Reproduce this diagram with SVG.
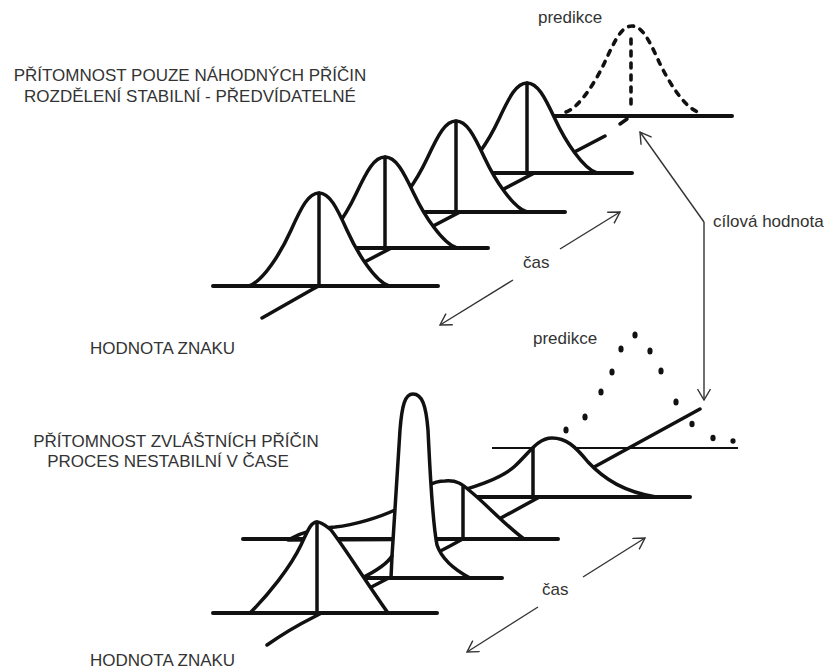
<svg xmlns="http://www.w3.org/2000/svg" width="827" height="670" viewBox="0 0 827 670">
<defs>
<style>
.ln{fill:none;stroke:#111;stroke-width:3.5;stroke-linecap:round;stroke-linejoin:round}
.bl{fill:none;stroke:#111;stroke-width:4;stroke-linecap:round}
.cv{fill:#fff;stroke:#111;stroke-width:3.5;stroke-linejoin:round}
.ds{fill:none;stroke:#111;stroke-width:3.6;stroke-linecap:round;stroke-dasharray:5 7}
.th{fill:none;stroke:#333;stroke-width:1.4}
.t{font-family:"Liberation Sans",Arial,sans-serif;font-size:17px;fill:#333}
.dot{fill:#111}
</style>
<marker id="ah" viewBox="0 0 14 14" refX="13" refY="7" markerWidth="14" markerHeight="14" markerUnits="userSpaceOnUse" orient="auto">
<path d="M2,0.5 L13,7 L2,13.5" fill="none" stroke="#333" stroke-width="1.4"/>
</marker>
</defs>
<rect width="827" height="670" fill="#fff"/>

<g id="labels">
<text class="t" x="190" y="81" text-anchor="middle">PŘÍTOMNOST POUZE NÁHODNÝCH PŘÍČIN</text>
<text class="t" x="190" y="102" text-anchor="middle">ROZDĚLENÍ STABILNÍ - PŘEDVÍDATELNÉ</text>
<text class="t" x="90" y="354">HODNOTA ZNAKU</text>
<text class="t" x="176" y="447" text-anchor="middle">PŘÍTOMNOST ZVLÁŠTNÍCH PŘÍČIN</text>
<text class="t" x="168" y="467" text-anchor="middle">PROCES NESTABILNÍ V ČASE</text>
<text class="t" x="90" y="666">HODNOTA ZNAKU</text>
<text class="t" x="538" y="23">predikce</text>
<text class="t" x="533" y="344">predikce</text>
<text class="t" x="523" y="268">čas</text>
<text class="t" x="542" y="595">čas</text>
<text class="t" x="713" y="227">cílová hodnota</text>
</g>

<g id="top-stable">
<g id="top-prediction">
<path class="ds" d="M566,112 C579.2,107.7 595.7,81.9 605.6,60.4 C615.5,38.9 622.1,26 632,26 C641.9,26 648.5,38.9 658.4,60.4 C668.3,81.9 684.8,107.7 698,112"/>
<path class="ds" d="M631,39 L631,110"/>
<line class="bl" x1="545" y1="116" x2="732" y2="116"/>
<line class="ln" x1="620" y1="124" x2="627" y2="119"/>
</g>
<polyline id="top-axis" class="ln" points="262,318 313,289 605,136"/>
<g id="top-c4">
<path class="cv" d="M457,173 C471,168.5 488.5,141.5 499,119 C509.5,96.5 516.5,83 527,83 C537.5,83 544.5,96.5 555,119 C565.5,141.5 583,168.5 597,173 Z"/>
<line class="ln" x1="527" y1="83" x2="527" y2="173"/>
<line class="bl" x1="480" y1="173" x2="632" y2="173"/>
</g>
<g id="top-c3">
<path class="cv" d="M385,212 C399.2,207.45 416.950,180.15 427.6,157.4 C438.25,134.65 445.35,121 456,121 C466.65,121 473.75,134.65 484.4,157.4 C495.05,180.15 512.8,207.45 527,212 Z"/>
<line class="ln" x1="456" y1="121" x2="456" y2="212"/>
<line class="bl" x1="410" y1="212" x2="565" y2="212"/>
</g>
<g id="top-c2">
<path class="cv" d="M313,248 C327.4,243.45 345.4,216.15 356.2,193.4 C367,170.65 374.2,157 385,157 C395.8,157 403,170.65 413.8,193.4 C424.6,216.15 442.6,243.45 457,248 Z"/>
<line class="ln" x1="385" y1="157" x2="385" y2="248"/>
<line class="bl" x1="340" y1="248" x2="488" y2="248"/>
</g>
<g id="top-c1">
<path class="cv" d="M249,286 C263,281.35 280.5,253.45 291,230.2 C301.5,206.95 308.5,193 319,193 C329.5,193 336.5,206.95 347,230.2 C357.5,253.45 375,281.35 389,286 Z"/>
<line class="ln" x1="319" y1="193" x2="319" y2="286"/>
<line class="bl" x1="213" y1="286" x2="438" y2="286"/>
</g>
</g>

<g id="bottom-unstable">
<g id="bottom-prediction">
<ellipse class="dot" cx="566" cy="430" rx="2.6" ry="3.6"/>
<ellipse class="dot" cx="585" cy="417" rx="2.6" ry="3.6"/>
<ellipse class="dot" cx="601" cy="392" rx="2.6" ry="3.6"/>
<ellipse class="dot" cx="612" cy="372" rx="2.6" ry="3.6"/>
<ellipse class="dot" cx="621" cy="349" rx="2.6" ry="3.6"/>
<ellipse class="dot" cx="635" cy="335" rx="2.6" ry="3.6"/>
<ellipse class="dot" cx="650" cy="351" rx="2.6" ry="3.6"/>
<ellipse class="dot" cx="661" cy="371" rx="2.6" ry="3.6"/>
<ellipse class="dot" cx="676" cy="402" rx="2.6" ry="3.6"/>
<ellipse class="dot" cx="692" cy="424" rx="2.6" ry="3.2"/>
<ellipse class="dot" cx="713" cy="438" rx="2.6" ry="3.2"/>
<ellipse class="dot" cx="733" cy="441" rx="2.6" ry="2.8"/>
<line x1="492" y1="448" x2="738" y2="448" stroke="#111" stroke-width="2"/>
</g>
<path id="bottom-axis" class="ln" d="M267,645 Q290,629 312,618 L450,546 L700,409"/>
<g id="bottom-c4">
<path class="cv" d="M440,497 C470,488 500,480 515,466 C530,452 538,438 552,438 C566,438 575,446 588,462 C605,480 625,492 656,497 Z"/>
<line class="ln" x1="533" y1="448" x2="533" y2="497"/>
<line class="bl" x1="440" y1="497" x2="690" y2="497"/>
</g>
<g id="bottom-c3">
<path class="cv" d="M288,540 C300,533 315,528 335,527 C355,525 380,517 395,510 C415,498 425,481 445,481 C457,480 462,484 470,491 C485,503 505,525 524,539 Z"/>
<line class="ln" x1="463" y1="487" x2="463" y2="539"/>
<line class="bl" x1="243" y1="539" x2="558" y2="539"/>
</g>
<g id="bottom-c2">
<path class="cv" d="M362,578 C376,571 387,564 392,556 C395,510 398,460 400,430 C402,405 405,394 413,394 C422,394 426,405 428,430 C430,470 432,520 437,545 C442,560 455,570 470,578 Z"/>
<line class="ln" x1="392" y1="556" x2="391" y2="578"/>
<line class="bl" x1="340" y1="578" x2="502" y2="578"/>
</g>
<g id="bottom-c1">
<path class="cv" d="M250,613 C268,595 290,568 301,545 C308,530 311,522 317,522 C322,522 326,526 331,530 C345,548 368,585 388,613 Z"/>
<line class="ln" x1="317" y1="522" x2="317" y2="613"/>
<line class="bl" x1="213" y1="613" x2="437" y2="613"/>
</g>
</g>

<g id="connectors">
<line class="th" x1="560" y1="249" x2="620" y2="212" marker-end="url(#ah)"/>
<line class="th" x1="513" y1="280" x2="440" y2="325" marker-end="url(#ah)"/>
<line class="th" x1="583" y1="577" x2="645" y2="538" marker-end="url(#ah)"/>
<line class="th" x1="538" y1="607" x2="467" y2="652" marker-end="url(#ah)"/>
<line class="th" x1="704" y1="222" x2="640" y2="132" marker-end="url(#ah)"/>
<line class="th" x1="704" y1="222" x2="704" y2="400" marker-end="url(#ah)"/>
</g>
</svg>
